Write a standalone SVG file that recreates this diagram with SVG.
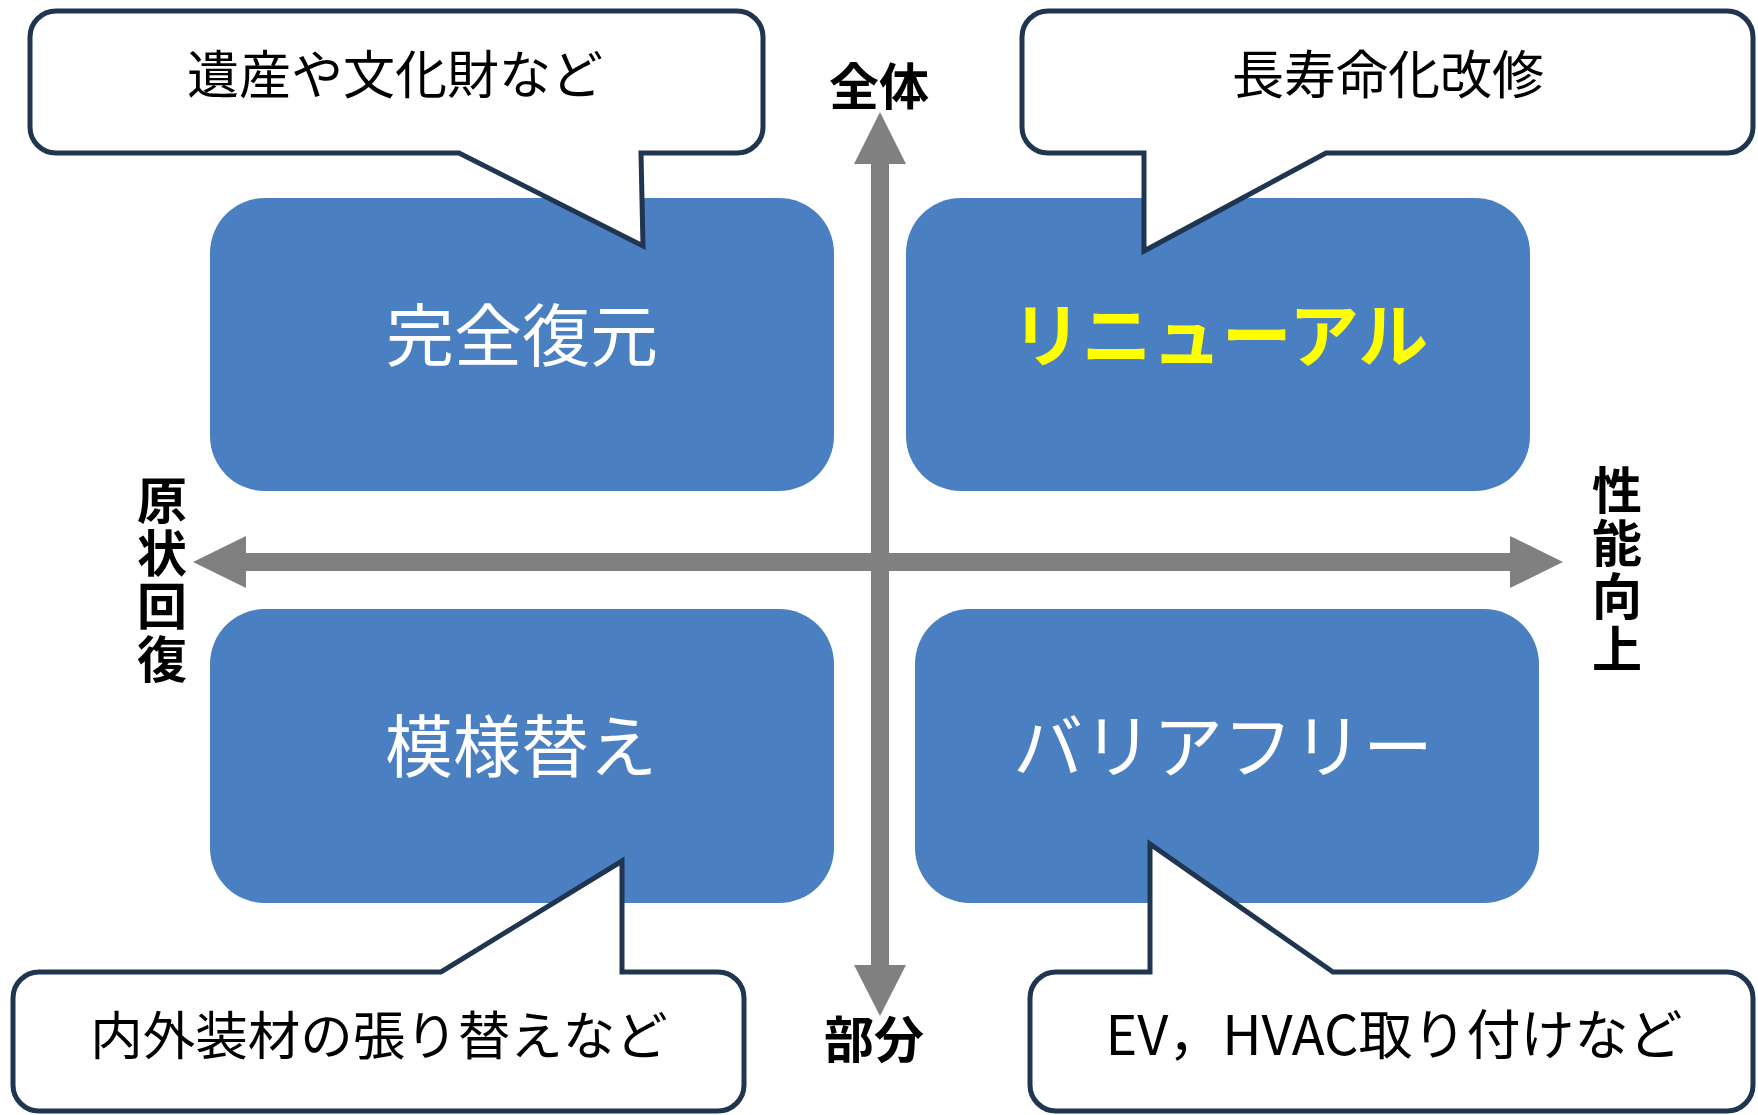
<svg xmlns="http://www.w3.org/2000/svg" width="1758" height="1115" viewBox="0 0 1758 1115">
<style>
.box{fill:#4A7FC1}
.call{fill:#FFFFFF;stroke:#1F3550;stroke-width:5;stroke-linejoin:miter}
.arrow{fill:#808080}
.ct{font-family:"Noto Sans CJK JP","Noto Sans",sans-serif;font-size:52px;fill:#000;text-anchor:middle}
.bt{font-family:"Noto Sans CJK JP","Noto Sans",sans-serif;font-size:68px;fill:#FFFFFF;text-anchor:middle}
.ax{font-family:"Noto Sans CJK JP","Noto Sans",sans-serif;font-size:50px;font-weight:bold;fill:#000;text-anchor:middle}
.vt{writing-mode:vertical-rl;letter-spacing:3px}
</style>
<rect width="1758" height="1115" fill="#FFFFFF"/>
<g id="connectors">
<path class="arrow" d="M193,562 L246,536 L246,553 L1510,553 L1510,536 L1563,562 L1510,588 L1510,571 L246,571 L246,588 Z"/>
<path class="arrow" d="M880,112 L906,164 L889,164 L889,965 L906,965 L880,1016 L854,965 L871,965 L871,164 L854,164 Z"/>
</g>
<g id="axis-labels">
<text class="ax" x="879" y="105">全体</text>
<text class="ax" x="874" y="1058">部分</text>
<text class="ax vt" x="162" y="581">原状回復</text>
<text class="ax vt" x="1617" y="571">性能向上</text>
</g>
<g id="node-kanzen">
<rect class="box" x="210" y="198" width="624" height="293" rx="55" ry="55"/>
<text class="bt" x="522" y="361">完全復元</text>
</g>
<g id="node-renewal">
<rect class="box" x="906" y="198" width="624" height="293" rx="55" ry="55"/>
<text class="bt" x="1220" y="362" style="fill:#FFFF00;font-weight:bold;font-size:70px">リニューアル</text>
</g>
<g id="node-moyougae">
<rect class="box" x="210" y="609" width="624" height="294" rx="55" ry="55"/>
<text class="bt" x="521" y="772">模様替え</text>
</g>
<g id="node-barrierfree">
<rect class="box" x="915" y="609" width="624" height="294" rx="55" ry="55"/>
<text class="bt" x="1223" y="773" style="font-size:70px">バリアフリー</text>
</g>
<g id="callout-heritage">
<path class="call" d="M56,11 H737 A26,26 0 0 1 763,37 V127 A26,26 0 0 1 737,153 H641 L643,246 L459,153 H56 A26,26 0 0 1 30,127 V37 A26,26 0 0 1 56,11 Z"/>
<text class="ct" x="395" y="94">遺産や文化財など</text>
</g>
<g id="callout-longlife">
<path class="call" d="M1048,11 H1727 A26,26 0 0 1 1753,37 V127 A26,26 0 0 1 1727,153 H1326 L1144,251 V153 H1048 A26,26 0 0 1 1022,127 V37 A26,26 0 0 1 1048,11 Z"/>
<text class="ct" x="1388" y="94">長寿命化改修</text>
</g>
<g id="callout-interior">
<path class="call" d="M39,972 H441 L622,861 V972 H718 A26,26 0 0 1 744,998 V1085 A26,26 0 0 1 718,1111 H39 A26,26 0 0 1 13,1085 V998 A26,26 0 0 1 39,972 Z"/>
<text class="ct" x="379" y="1055" style="font-size:52.5px">内外装材の張り替えなど</text>
</g>
<g id="callout-ev">
<path class="call" d="M1056,972 H1150 V844 L1333,972 H1727 A26,26 0 0 1 1753,998 V1085 A26,26 0 0 1 1727,1111 H1056 A26,26 0 0 1 1030,1085 V998 A26,26 0 0 1 1056,972 Z"/>
<text class="ct" x="1394" y="1055" style="font-size:54px">EV，HVAC取り付けなど</text>
</g>
</svg>
